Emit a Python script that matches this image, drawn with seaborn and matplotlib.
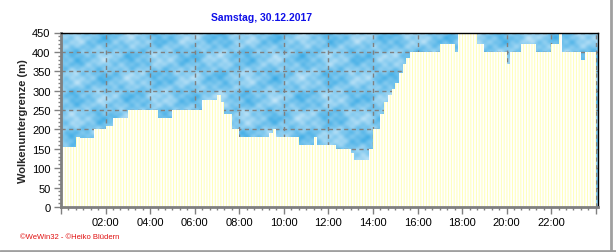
import numpy as np
import pandas as pd
import matplotlib
matplotlib.use("Agg")
import matplotlib.pyplot as plt
from matplotlib.lines import Line2D
from matplotlib.ticker import MultipleLocator, FixedLocator
import seaborn as sns

# ---- data: cloud base (m), 10-minute steps, 00:00 .. 23:50 ----
title = "Samstag, 30.12.2017"
ylabel = "Wolkenuntergrenze (m)"
footer = "\u00a9WeWin32 - \u00a9Heiko Blüdern"
cloud_base = [
    155, 155, 155, 155, 180, 178,   # 00
    178, 178, 178, 200, 200, 200,   # 01
    210, 210, 230, 230, 230, 230,   # 02
    250, 250, 250, 250, 250, 250,   # 03
    250, 250, 230, 230, 230, 230,   # 04
    250, 250, 250, 250, 250, 250,   # 05
    250, 250, 275, 275, 275, 275,   # 06
    290, 270, 240, 240, 200, 200,   # 07
    180, 180, 180, 180, 180, 180,   # 08
    180, 180, 190, 200, 180, 180,   # 09
    180, 180, 180, 180, 160, 160,   # 10
    160, 160, 180, 160, 160, 160,   # 11
    160, 160, 150, 150, 150, 150,   # 12
    140, 120, 120, 120, 120, 150,   # 13
    200, 200, 240, 270, 290, 305,   # 14
    320, 345, 370, 385, 400, 400,   # 15
    400, 400, 400, 400, 400, 400,   # 16
    420, 420, 420, 420, 400, 450,   # 17
    450, 450, 450, 450, 420, 420,   # 18
    400, 400, 400, 400, 400, 400,   # 19
    370, 400, 400, 400, 420, 420,   # 20
    420, 420, 400, 400, 400, 400,   # 21
    420, 420, 450, 400, 400, 400,   # 22
    400, 400, 380, 400, 400, 400,   # 23
]
hour_ticks = list(range(0, 25, 2))
hour_labels = ["" if h in (0, 24) else f"{h:02d}:00" for h in hour_ticks]
y_ticks = list(range(0, 451, 50))

times = (np.arange(len(cloud_base)) + 0.5) / 6.0
df = pd.DataFrame({"hour": times, "base": cloud_base})

sns.set_style("white")
plt.rcParams["font.family"] = ["Liberation Sans", "DejaVu Sans"]
plt.rcParams["hatch.linewidth"] = 0.7

fig = plt.figure(figsize=(6.16, 2.53), dpi=100)
ax = fig.add_axes([61 / 616, 1 - 208 / 253, 537 / 616, 174.5 / 253])

XMAX = 24.1
YMAX = 450

# cloud texture background (styling only)
H, W = 175, 537
yy, xx = np.mgrid[0:H, 0:W].astype(float)
tp = 2 * np.pi
n = (0.50
     + 0.20 * np.sin(tp * xx / 57.0) * np.sin(tp * yy / 40.0 + 0.7)
     + 0.12 * np.sin(tp * (xx + 0.6 * yy) / 23.0 + 1.3)
     * np.sin(tp * (yy - 0.3 * xx) / 21.0 + 0.4)
     + 0.07 * np.sin(tp * xx / 11.0 + 2.1) * np.sin(tp * yy / 9.0 + 1.1))
n = np.clip(n, 0, 1)[..., None]
dark = np.array([40, 162, 226]) / 255.0
light = np.array([215, 238, 251]) / 255.0
tex = dark * (1 - n) + light * n
ax.imshow(tex, extent=[0, XMAX, 0, YMAX], aspect="auto", zorder=0,
          interpolation="bilinear")

sns.histplot(data=df, x="hour", weights="base", bins=len(cloud_base),
             binrange=(0, 24), stat="count", facecolor="white",
             edgecolor="#FFFFB8", hatch="||||||", linewidth=0,
             alpha=1, ax=ax, zorder=1)

ax.set_xlim(0, XMAX)
ax.set_ylim(0, YMAX)
ax.set_axisbelow(True)
ax.grid(True, color="#808080", linestyle=(0, (3, 2.5)), linewidth=1.0)

ax.xaxis.set_major_locator(FixedLocator(hour_ticks))
ax.set_xticklabels(hour_labels)
ax.xaxis.set_minor_locator(MultipleLocator(1 / 3))
ax.set_yticks(y_ticks)
ax.yaxis.set_minor_locator(MultipleLocator(10))

ax.tick_params(axis="both", which="major", direction="out", length=5,
               width=1, color="#808080", labelsize=8, labelcolor="black",
               bottom=True, left=True, pad=2.5)
ax.tick_params(axis="both", which="minor", direction="out", length=2.5,
               width=1, color="#808080", bottom=True, left=True)

for side in ("left", "bottom"):
    ax.spines[side].set_color("#808080")
    ax.spines[side].set_linewidth(2)
for side in ("top", "right"):
    ax.spines[side].set_color("black")
    ax.spines[side].set_linewidth(1)
    ax.spines[side].set_visible(True)

ax.set_xlabel("")
ax.set_ylabel(ylabel, fontsize=8, fontweight="bold", labelpad=3)

fig.text(262 / 616, 1 - 18 / 253, title, ha="center", va="center",
         color="#1010E8", fontsize=7.5, fontweight="bold")
fig.text(20 / 616, 1 - 238 / 253, footer, ha="left", va="center",
         color="#E01010", fontsize=5.5)

# outer frame lines (right and bottom)
fig.add_artist(Line2D([611 / 616, 611 / 616], [0, 1], color="#A0A0A0",
                      linewidth=2, transform=fig.transFigure))
fig.add_artist(Line2D([0, 1], [1.5 / 253, 1.5 / 253], color="#A0A0A0",
                      linewidth=2, transform=fig.transFigure))

fig.savefig("out.png", dpi=100)
